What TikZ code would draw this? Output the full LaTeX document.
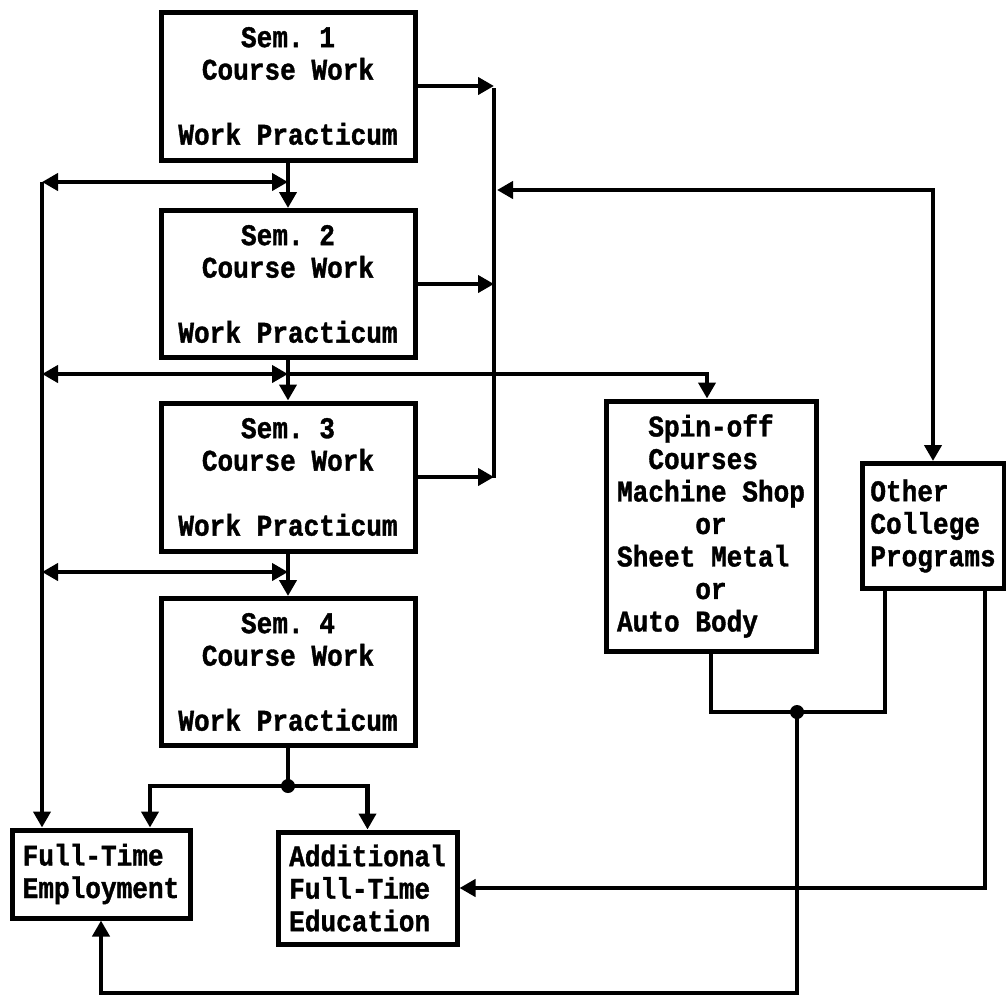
\documentclass[tikz,border=0pt]{standalone}
\usepackage{fontspec}
\setmonofont{Liberation Mono}[FakeStretch=0.87, FakeBold=1.2]
\usetikzlibrary{arrows.meta}

\newcommand\boxfont{\ttfamily\bfseries\fontsize{30}{32.5}\selectfont}

\tikzset{
  box/.style={draw, line width=5pt, rectangle, inner sep=0pt, font=\boxfont},
  link/.style={line width=4.5pt},
  tip/.tip={Triangle[length=16pt,width=17pt]},
  arr/.style={link, -tip},
  darr/.style={link, tip-tip},
  jdot/.style={circle, fill, inner sep=0pt, minimum size=14pt},
}

\begin{document}
\begin{tikzpicture}[x=1pt, y=-1pt]
\useasboundingbox (0,0) rectangle (1006,1002);

% semester boxes
\node[box, minimum width=254pt, minimum height=148pt, align=center] (sem1) at (288,86)
  {Sem. 1\\Course Work\\[32.5pt]Work Practicum};
\node[box, minimum width=254pt, minimum height=147pt, align=center] (sem2) at (288,284)
  {Sem. 2\\Course Work\\[32.5pt]Work Practicum};
\node[box, minimum width=254pt, minimum height=148pt, align=center] (sem3) at (288,477)
  {Sem. 3\\Course Work\\[32.5pt]Work Practicum};
\node[box, minimum width=254pt, minimum height=147pt, align=center] (sem4) at (288,672)
  {Sem. 4\\Course Work\\[32.5pt]Work Practicum};

% outcome boxes
\node[box, minimum width=178pt, minimum height=88pt, align=left] (emp) at (101,874)
  {Full-Time\\Employment};
\node[box, minimum width=179pt, minimum height=112pt, align=left] (add) at (367.5,888)
  {Additional\\Full-Time\\Education};
\node[box, minimum width=210pt, minimum height=250pt, align=left] (spin) at (711,526)
  {\phantom{xx}Spin-off\\\phantom{xx}Courses\\Machine Shop\\\phantom{xxxxx}or\\Sheet Metal\\\phantom{xxxxx}or\\Auto Body};
\node[box, minimum width=142pt, minimum height=125pt, align=left] (other) at (933,526)
  {Other\\College\\Programs};

% helper points on the two collector lines
\coordinate (lt) at (42,182);
\coordinate (lm) at (42,374);
\coordinate (lb) at (42,572);
\coordinate (rt) at (494,88);
\coordinate (rb) at (494,478);
\coordinate (ro) at (497,190);
\coordinate (sp) at (707,374);
\coordinate (js) at (288,786);
\coordinate (jr) at (797,712);
\coordinate (jb) at (797,993);

% semester sequence
\draw[arr] (sem1) -- (sem2);
\draw[arr] (sem2) -- (sem3);
\draw[arr] (sem3) -- (sem4);

% exits to employment
\draw[darr] (lt) -- (lt -| sem1.south);
\draw[darr] (lm) -- (lm -| sem1.south);
\draw[darr] (lb) -- (lb -| sem1.south);
\draw[arr] (lt) -- (lt |- emp.north);

% transfer collector on the right
\draw[arr] (sem1.east) -- (sem1.east -| rt);
\draw[arr] (sem2.east) -- (sem2.east -| rt);
\draw[arr] (sem3.east) -- (sem3.east -| rt);
\draw[link] (rt) -- (rb);
\draw[darr] (ro) -| (other.north);

% spin-off courses
\draw[arr] (lm -| sem1.south) -- (sp) -- (sp |- spin.north);

% after semester 4
\draw[link] (sem4.south) -- (js);
\draw[arr] (js) -| ([xshift=49pt]emp.north);
\draw[arr] (js) -| (add.north);
\node[jdot] (jsd) at (js) {};

% returns from spin-off and other programs
\draw[link] (spin.south) |- (jr);
\draw[link] ([xshift=-48pt]other.south) |- (jr);
\draw[arr] (jr) -- (jb) -| (emp.south);
\node[jdot] (jrd) at (jr) {};
\draw[arr] ([xshift=52pt]other.south) |- (add.east);
\end{tikzpicture}
\end{document}
